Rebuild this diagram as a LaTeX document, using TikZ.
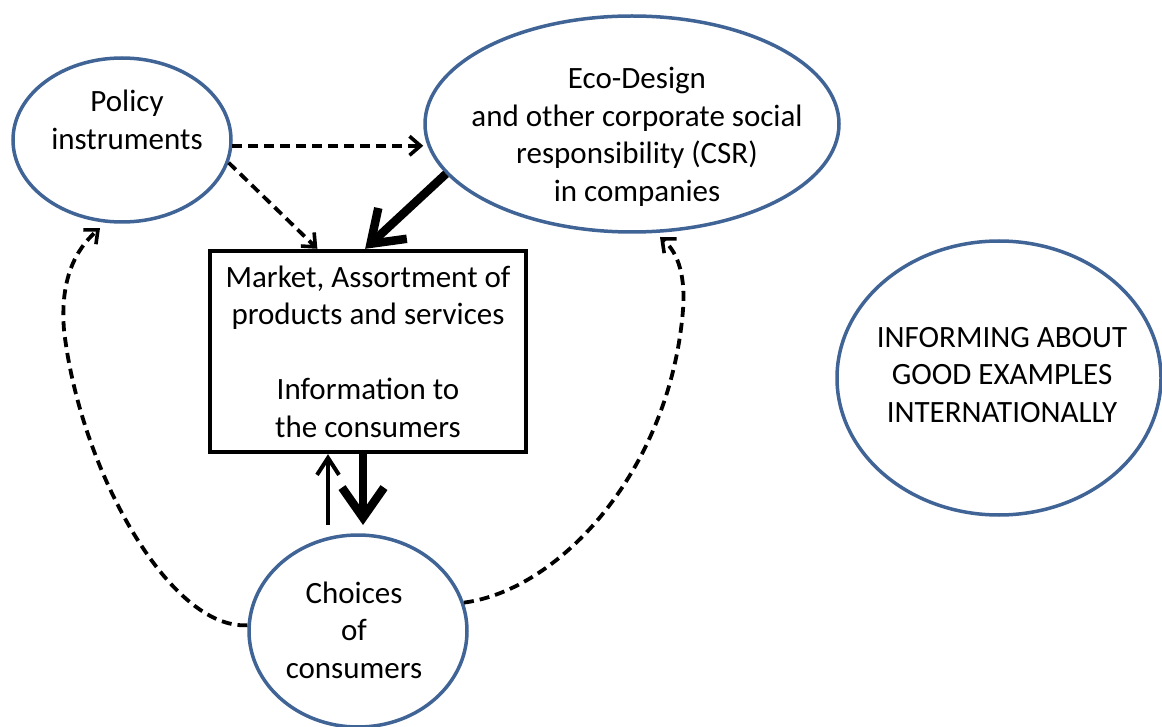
\documentclass[tikz,border=0pt]{standalone}
\usepackage{fontspec}
\setmainfont{Carlito}
\usetikzlibrary{arrows.meta,shapes.geometric,calc}
\definecolor{ellblue}{RGB}{65,100,150}
\begin{document}
\begin{tikzpicture}[x=1pt,y=-1pt,
  txt/.style={font=\fontsize{31}{37.5}\selectfont, align=center, inner sep=0pt},
  bubble/.style={ellipse, draw=ellblue, line width=3.5pt, inner sep=0pt},
  marketbox/.style={rectangle, draw=black, line width=4.4pt, inner sep=0pt,
    minimum width=316pt, minimum height=201pt},
  dasharrow/.style={line width=3.8pt, dash pattern=on 10pt off 6pt,
    -{Straight Barb[length=11pt,width=19pt,line width=3.6pt]}},
  thinarrow/.style={line width=4pt, -{Straight Barb[length=17pt,width=22pt,line width=4pt]}},
  fatarrow/.style={line width=8.5pt, -{Straight Barb[length=30pt,width=42pt,line width=8.5pt]}}
]
\useasboundingbox (0,0) rectangle (1162,727);

% shapes
\node[bubble, minimum width=218pt, minimum height=164pt] (pol) at (122,140) {};
\node[txt] (poltxt) at (127,120) {Policy\\instruments};

\node[bubble, minimum width=414pt, minimum height=216pt] (eco) at (632,124) {};
\node[txt] (ecotxt) at (637,137) {Eco-Design\\and other corporate social\\responsibility (CSR)\\in companies};

\node[marketbox, txt] (box) at (368,351.5) {Market, Assortment of\\products and services\\[37.5pt]Information to\\the consumers};

\node[bubble, minimum width=218pt, minimum height=192pt] (cho) at (358,631) {};
\node[txt] (chotxt) at (354,630) {Choices\\of\\consumers};

\node[bubble, minimum width=324pt, minimum height=274pt] (inf) at (999,378) {};
\node[txt] (inftxt) at (1002,375) {INFORMING ABOUT\\GOOD EXAMPLES\\INTERNATIONALLY};

% coordinates for free ends
\coordinate (polstart) at (pol.-3);
\coordinate (boxin1) at ($(box.north west)!0.342!(box.north east)$);
\coordinate (boxin2) at ($(box.north west)!0.491!(box.north east)$);
\coordinate (upstart) at (328,525);
\coordinate (downend) at (363,525);
\coordinate (polin) at (100,228);
\coordinate (ecoin) at (660,237);

% connectors
\draw[dasharrow] (polstart) -- (polstart -| eco.west);
\draw[dasharrow] (pol.-12) -- (boxin1);
\draw[fatarrow] (eco.195) -- (boxin2);
\draw[thinarrow] (upstart) -- (upstart |- box.south);
\draw[fatarrow] (downend |- box.south) -- (downend);
\draw[dasharrow] (cho.177) .. controls (170,630) and (80,470) .. (64,330)
  .. controls (60,280) and (75,250) .. (polin);
\draw[dasharrow] (cho.15) .. controls (560,590) and (670,470) .. (683,310)
  .. controls (686,270) and (675,250) .. (ecoin);
\end{tikzpicture}
\end{document}
